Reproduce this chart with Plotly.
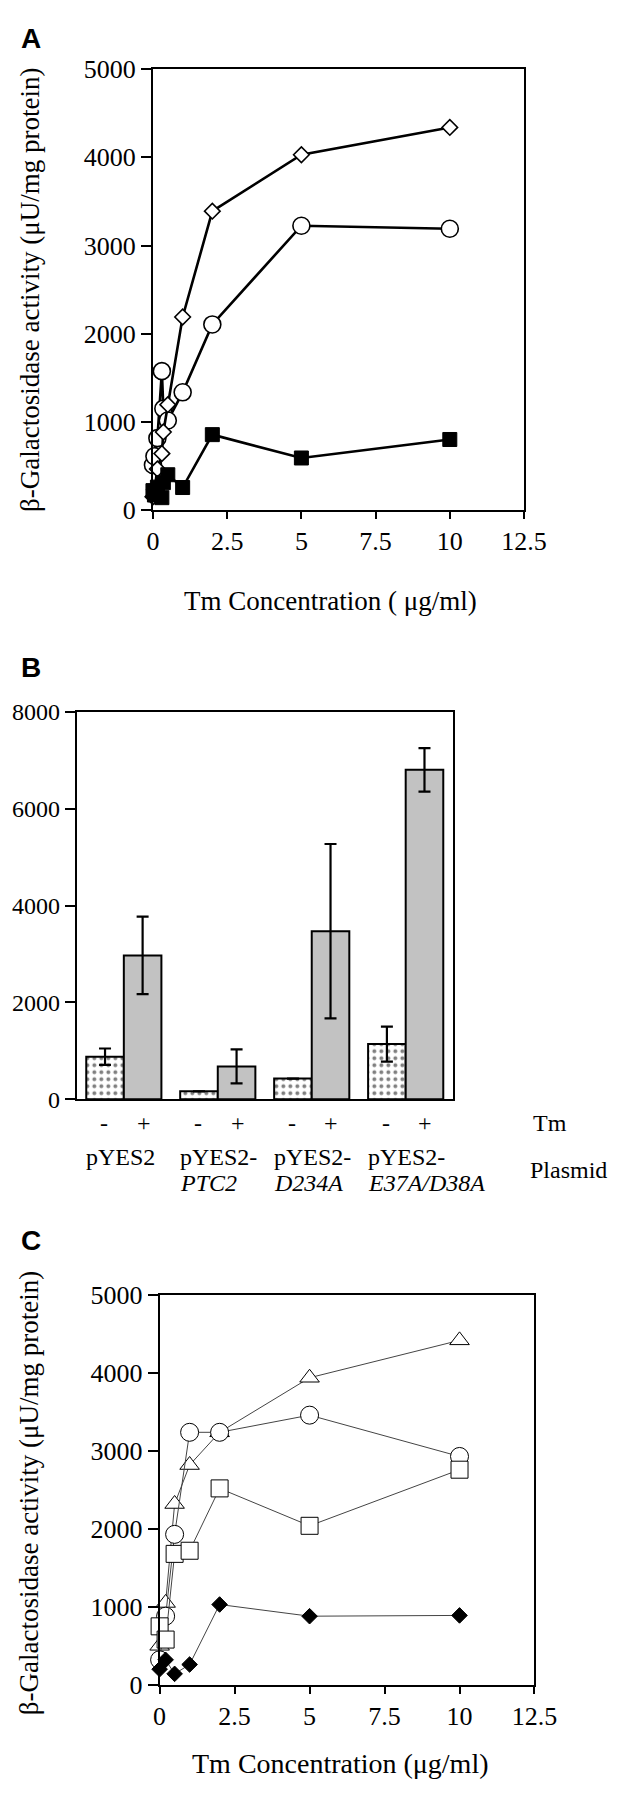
import plotly.graph_objects as go

W, H = 618, 1800

# ---------------- Panel A data ----------------
a_x = [0, 0.05, 0.15, 0.3, 0.35, 0.5, 1, 2, 5, 10]
a_diamond = [150, 230, 465, 640, 885, 1195, 2190, 3390, 4030, 4340]
a_circle = [510, 610, 815, 1575, 1150, 1015, 1335, 2105, 3225, 3190]
a_square = [220, 170, 260, 140, 310, 400, 255, 855, 590, 800]
xticks_vals = [0, 2.5, 5, 7.5, 10, 12.5]
xticks_text = ["0", "2.5", "5", "7.5", "10", "12.5"]

# ---------------- Panel B data ----------------
plasmids = ["pYES2", "pYES2-PTC2", "pYES2-D234A", "pYES2-E37A/D38A"]
plasmid_line1 = ["pYES2", "pYES2-", "pYES2-", "pYES2-"]
plasmid_line2 = ["", "PTC2", "D234A", "E37A/D38A"]
b_minus = [880, 165, 430, 1140]
b_minus_err = [170, 0, 0, 360]
b_plus = [2970, 680, 3470, 6800]
b_plus_err = [800, 350, 1800, 450]

# ---------------- Panel C data ----------------
c_x = [0, 0.2, 0.5, 1, 2, 5, 10]
c_triangle = [500, 1050, 2320, 2820, 3240, 3940, 4420]
c_circle = [320, 880, 1930, 3240, 3240, 3460, 2930]
c_square = [750, 580, 1680, 1720, 2520, 2040, 2760]
c_diamond = [200, 320, 140, 260, 1030, 880, 890]

SERIF = "Liberation Serif"
SANS = "Liberation Sans"
TICKSIZE = 26
TITLESIZE = 27
BLABEL = 24


def dx(a, b):
    return [a / W, b / W]


def dy(top, bottom):
    return [1 - bottom / H, 1 - top / H]


def py(v):
    return 1 - v / H


fig = go.Figure()


def line_trace(x, y, sym, fill, size, lw, mlw, xa, ya, lcolor="black"):
    return go.Scatter(
        x=x, y=y, mode="lines+markers", xaxis=xa, yaxis=ya,
        line=dict(color=lcolor, width=lw),
        marker=dict(symbol=sym, size=size, color=fill,
                    line=dict(color="black", width=mlw)),
        cliponaxis=False, showlegend=False,
    )


fig.add_trace(line_trace(a_x, a_circle, "circle", "white", 17, 2.6, 1.6, "x", "y"))
fig.add_trace(line_trace(a_x, a_diamond, "diamond", "white", 12, 2.6, 1.6, "x", "y"))
fig.add_trace(line_trace(a_x, a_square, "square", "black", 14, 2.6, 1, "x", "y"))

bargap = 0.2
fig.add_trace(go.Bar(
    x=plasmids, y=b_minus, xaxis="x2", yaxis="y2", name="-",
    marker=dict(color="white", line=dict(color="black", width=2),
                pattern=dict(shape=".", fgcolor="black", bgcolor="white",
                             size=7, solidity=0.25)),
    error_y=dict(type="data", array=b_minus_err, visible=True,
                 color="black", thickness=2.2, width=6),
    showlegend=False,
))
fig.add_trace(go.Bar(
    x=plasmids, y=b_plus, xaxis="x2", yaxis="y2", name="+",
    marker=dict(color="#c2c2c2", line=dict(color="black", width=2)),
    error_y=dict(type="data", array=b_plus_err, visible=True,
                 color="black", thickness=2.2, width=6),
    showlegend=False,
))

fig.add_trace(line_trace(c_x, c_triangle, "triangle-up", "white", 17, 1, 1, "x3", "y3", "#444"))
fig.add_trace(line_trace(c_x, c_circle, "circle", "white", 18, 1, 1, "x3", "y3", "#444"))
fig.add_trace(line_trace(c_x, c_square, "square", "white", 17, 1, 1, "x3", "y3", "#444"))
fig.add_trace(line_trace(c_x, c_diamond, "diamond", "black", 12, 1, 1, "x3", "y3", "#444"))


def axis_common(size=TICKSIZE):
    return dict(showline=True, linecolor="black", linewidth=2, mirror=True,
                showgrid=False, zeroline=False, ticks="outside",
                tickcolor="black", tickwidth=2,
                tickfont=dict(family=SERIF, size=size, color="black"))


cat_px = (460 - 65) / len(plasmids)
bar_off = cat_px * (1 - bargap) / 4

fig.update_layout(
    width=W, height=H, margin=dict(l=0, r=0, t=0, b=0),
    paper_bgcolor="white", plot_bgcolor="white",
    barmode="group", bargap=bargap, bargroupgap=0,
    font=dict(family=SERIF, color="black"),
    xaxis=dict(domain=dx(145, 535), range=[0, 12.5], tickvals=xticks_vals,
               ticktext=xticks_text, ticklen=7, anchor="y", **axis_common()),
    yaxis=dict(domain=dy(48, 496), range=[0, 5000], dtick=1000, ticklen=10,
               anchor="x", **axis_common()),
    xaxis2=dict(domain=dx(65, 460), range=[-0.5, 3.5], showticklabels=False,
                anchor="y2", **{**axis_common(), "ticks": ""}),
    yaxis2=dict(domain=dy(701, 1095), range=[0, 8000], dtick=2000, ticklen=10,
                anchor="x2", **axis_common(24)),
    xaxis3=dict(domain=dx(152, 546), range=[0, 12.5], tickvals=xticks_vals,
                ticktext=xticks_text, ticklen=7, anchor="y3", **axis_common()),
    yaxis3=dict(domain=dy(1294, 1690), range=[0, 5000], dtick=1000, ticklen=10,
                anchor="x3", **axis_common()),
)

ann = []
for letter, yy in [("A", 17), ("B", 656), ("C", 1238)]:
    ann.append(dict(text=f"<b>{letter}</b>", x=4 / W, y=py(yy), xref="paper", yref="paper",
                    xanchor="left", yanchor="middle", showarrow=False,
                    font=dict(family=SANS, size=28, color="black")))
ytitle = "β-Galactosidase activity (μU/mg protein)"
for yy in [272, 1495]:
    ann.append(dict(text=ytitle, x=15 / W, y=py(yy), xref="paper", yref="paper",
                    xanchor="center", yanchor="middle", textangle=-90, showarrow=False,
                    font=dict(family=SERIF, size=TITLESIZE, color="black")))
ann.append(dict(text="Tm Concentration ( μg/ml)", x=332 / W, y=py(588), xref="paper", yref="paper",
                xanchor="center", yanchor="middle", showarrow=False,
                font=dict(family=SERIF, size=TITLESIZE, color="black")))
ann.append(dict(text="Tm Concentration (μg/ml)", x=342 / W, y=py(1770), xref="paper", yref="paper",
                xanchor="center", yanchor="middle", showarrow=False,
                font=dict(family=SERIF, size=28, color="black")))
for i, p in enumerate(plasmids):
    for sign, sh in [("-", -bar_off), ("+", bar_off)]:
        ann.append(dict(text=sign, x=p, y=py(1119), xref="x2", yref="paper", xshift=sh,
                        xanchor="center", yanchor="middle", showarrow=False,
                        font=dict(family=SERIF, size=BLABEL, color="black")))
    ann.append(dict(text=plasmid_line1[i], x=p, y=py(1154), xref="x2", yref="paper",
                    xshift=-2 * bar_off, xanchor="left", yanchor="middle", showarrow=False,
                    font=dict(family=SERIF, size=BLABEL, color="black")))
    if plasmid_line2[i]:
        ann.append(dict(text=f"<i>{plasmid_line2[i]}</i>", x=p, y=py(1180), xref="x2", yref="paper",
                        xshift=-2 * bar_off, xanchor="left", yanchor="middle", showarrow=False,
                        font=dict(family=SERIF, size=BLABEL, color="black")))
ann.append(dict(text="Tm", x=542 / W, y=py(1119), xref="paper", yref="paper",
                xanchor="left", yanchor="middle", showarrow=False,
                font=dict(family=SERIF, size=BLABEL, color="black")))
ann.append(dict(text="Plasmid", x=539 / W, y=py(1167), xref="paper", yref="paper",
                xanchor="left", yanchor="middle", showarrow=False,
                font=dict(family=SERIF, size=BLABEL, color="black")))

fig.update_layout(annotations=ann)
fig.write_html("out.html")
